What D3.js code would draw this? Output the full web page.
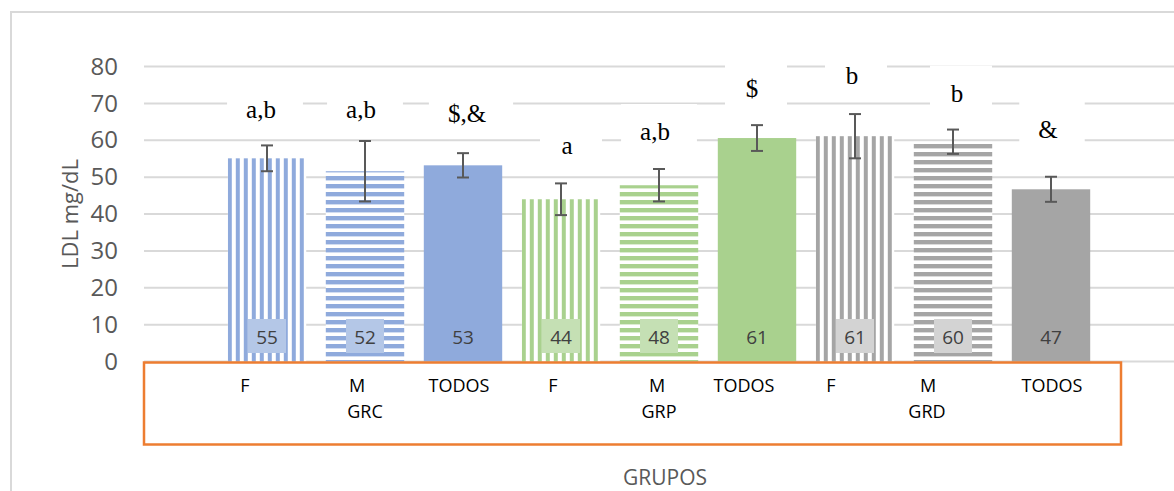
<!DOCTYPE html>
<html>
<head>
<meta charset="utf-8">
<script src="https://cdn.jsdelivr.net/npm/d3@7/dist/d3.min.js"></script>
<style>
  html, body { margin: 0; padding: 0; background: #fff; }
  svg { display: block; }
</style>
</head>
<body>
<svg id="chart" width="1174" height="491"></svg>
<script>
// ---------------- data ----------------
const categories = ["F", "M", "TODOS", "F", "M", "TODOS", "F", "M", "TODOS"];
const groups = ["GRC", "GRP", "GRD"];
const means = [55.1, 51.6, 53.2, 44.0, 47.8, 60.6, 61.1, 59.6, 46.7];
const errors = [3.5, 8.2, 3.3, 4.3, 4.4, 3.5, 6.0, 3.3, 3.4];
const sigLetters = ["a,b", "a,b", "$,&", "a", "a,b", "$", "b", "b", "&"];
const yTicks = [0, 10, 20, 30, 40, 50, 60, 70, 80];
const yTitle = "LDL mg/dL";
const xTitle = "GRUPOS";

// ---------------- layout / style ----------------
const groupColors = ["#8FAADC", "#A9D18E", "#A5A5A5"];
const groupLight = ["#B4C7E7", "#C5E0B4", "#D3D3D3"];
const catLabelDx = [-22, -8, -4, -8, -2, -13, -24, -25, 1];
const groupLabelDx = [0, 0, -26];
const sigDx = [-6, -4, 4, 6, -4, -5, -3, 4, -3];
const sigDy = [2, 6, -2, 0, 0, 1, -1, 1, -10];

const svg = d3.select("#chart");
const ids = d3.range(categories.length);

const x = d3.scaleBand().domain(ids).range([218, 1100]).paddingInner(0.2).paddingOuter(0.1);
const y = d3.scaleLinear().domain([0, 80]).range([361.5, 66.5]);

const sans = "'Open Sans', 'Noto Sans', sans-serif";
const serif = "'Liberation Serif', 'DejaVu Serif', serif";

// outer chart border
svg.append("rect")
  .attr("x", 11).attr("y", 12).attr("width", 1200).attr("height", 520)
  .attr("fill", "none").attr("stroke", "#D9D9D9").attr("stroke-width", 2);

// patterns
const defs = svg.append("defs");
ids.forEach(i => {
  const g = Math.floor(i / 3), kind = i % 3;
  if (kind === 0) {
    const p = defs.append("pattern")
      .attr("id", "pat" + i).attr("patternUnits", "userSpaceOnUse")
      .attr("width", 8).attr("height", 8)
      .attr("patternTransform", `translate(${x(i)},0)`);
    p.append("rect").attr("width", 8).attr("height", 8).attr("fill", "#fff");
    p.append("rect").attr("width", 4).attr("height", 8).attr("fill", groupColors[g]);
  } else if (kind === 1) {
    const p = defs.append("pattern")
      .attr("id", "pat" + i).attr("patternUnits", "userSpaceOnUse")
      .attr("width", 8).attr("height", 8);
    p.append("rect").attr("width", 8).attr("height", 8).attr("fill", "#fff");
    p.append("rect").attr("width", 8).attr("height", 4.4).attr("fill", groupColors[g]);
  }
});

// gridlines
svg.append("g").selectAll("line").data(yTicks).join("line")
  .attr("x1", 144).attr("x2", 1180)
  .attr("y1", d => y(d)).attr("y2", d => y(d))
  .attr("stroke", "#D9D9D9").attr("stroke-width", 2);

// y axis labels
const yAxis = svg.append("g").attr("transform", "translate(144,0)")
  .call(d3.axisLeft(y).tickValues(yTicks).tickSize(0).tickPadding(26));
yAxis.select(".domain").remove();
yAxis.selectAll("text")
  .attr("font-family", sans).attr("font-size", 24).attr("fill", "#595959");

// significance letters (white boxes then text)
const sigG = svg.append("g");
const sigTexts = [];
ids.forEach(i => {
  const tx = x(i) + x.bandwidth() / 2 + sigDx[i];
  const ty = y(means[i] + errors[i]) - 29 + sigDy[i];
  const box = sigG.append("rect").attr("fill", "#fff");
  sigTexts.push({ i, tx, ty, box });
});

// bars
svg.append("g").selectAll("rect").data(ids).join("rect")
  .attr("x", i => x(i)).attr("width", x.bandwidth())
  .attr("y", i => y(means[i])).attr("height", i => y(0) - y(means[i]))
  .attr("fill", i => (i % 3 === 2) ? groupColors[Math.floor(i / 3)] : `url(#pat${i})`);

// value labels at bar bottom
const vl = svg.append("g");
ids.forEach(i => {
  const cx = x(i) + x.bandwidth() / 2;
  if (i % 3 !== 2) {
    vl.append("rect")
      .attr("x", cx - 19).attr("y", y(0) - 42.5).attr("width", 38).attr("height", 34)
      .attr("fill", groupLight[Math.floor(i / 3)]);
  }
  vl.append("text")
    .attr("x", cx).attr("y", y(0) - 17.5)
    .attr("text-anchor", "middle")
    .attr("font-family", sans).attr("font-size", 19).attr("fill", "#404040")
    .text(Math.round(means[i]));
});

// error bars
const eb = svg.append("g").attr("stroke", "#595959").attr("stroke-width", 2);
ids.forEach(i => {
  const cx = x(i) + x.bandwidth() / 2;
  const t = y(means[i] + errors[i]), b = y(means[i] - errors[i]);
  eb.append("line").attr("x1", cx).attr("x2", cx).attr("y1", t).attr("y2", b);
  eb.append("line").attr("x1", cx - 6).attr("x2", cx + 6).attr("y1", t).attr("y2", t);
  eb.append("line").attr("x1", cx - 6).attr("x2", cx + 6).attr("y1", b).attr("y2", b);
});

// sig text
sigTexts.forEach(s => {
  const t = svg.append("text")
    .attr("x", s.tx).attr("y", s.ty)
    .attr("text-anchor", "middle")
    .attr("font-family", serif).attr("font-size", 25).attr("fill", "#000")
    .text(sigLetters[s.i]);
  const w = Math.max(62, t.node().getBBox().width + 46);
  s.box.attr("x", s.tx + 4 - w / 2).attr("y", s.ty - 36).attr("width", w).attr("height", 44);
});

// orange category box
svg.append("rect")
  .attr("x", 144).attr("y", 362.5).attr("width", 977).attr("height", 82)
  .attr("fill", "#fff").attr("stroke", "#ED7D31").attr("stroke-width", 2.5);

// category labels
svg.append("g").selectAll("text").data(ids).join("text")
  .attr("x", i => x(i) + x.bandwidth() / 2 + catLabelDx[i])
  .attr("y", 392)
  .attr("text-anchor", "middle")
  .attr("font-family", sans).attr("font-size", 18).attr("fill", "#000")
  .text(i => categories[i]);

// group labels
svg.append("g").selectAll("text").data(groups).join("text")
  .attr("x", (d, g) => x(g * 3 + 1) + x.bandwidth() / 2 + groupLabelDx[g])
  .attr("y", 418)
  .attr("text-anchor", "middle")
  .attr("font-family", sans).attr("font-size", 18).attr("fill", "#000")
  .text(d => d);

// axis titles
svg.append("text")
  .attr("transform", `translate(78,${(y(0) + y(80)) / 2}) rotate(-90)`)
  .attr("text-anchor", "middle")
  .attr("font-family", sans).attr("font-size", 22).attr("fill", "#595959")
  .text(yTitle);

svg.append("text")
  .attr("x", 665).attr("y", 485)
  .attr("text-anchor", "middle")
  .attr("font-family", sans).attr("font-size", 21).attr("fill", "#595959")
  .text(xTitle);
</script>
</body>
</html>
